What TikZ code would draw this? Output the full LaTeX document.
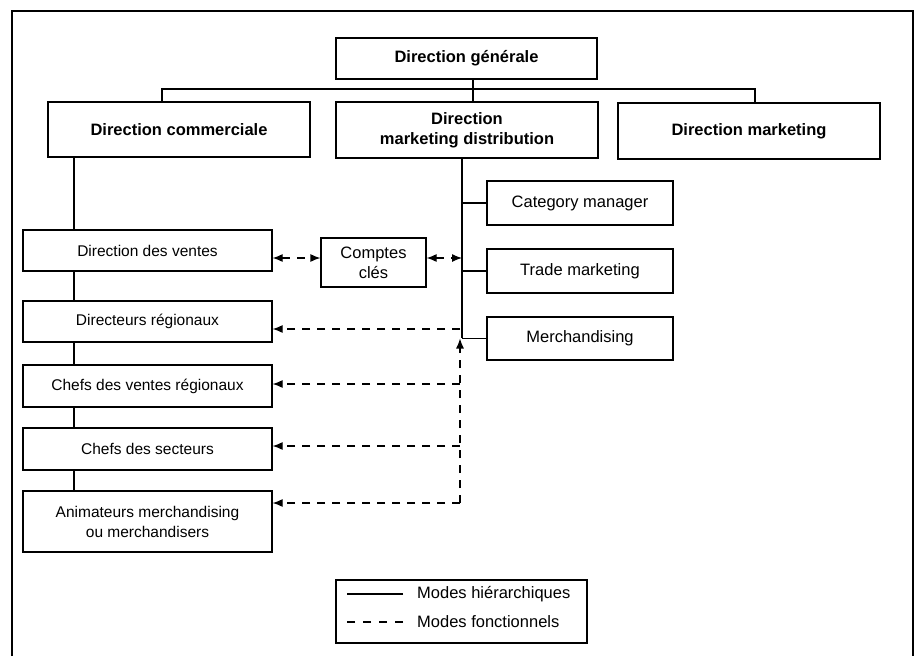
\documentclass[tikz,border=0pt]{standalone}
\usepackage{fontspec}
\setmainfont{Liberation Sans}
\usetikzlibrary{arrows.meta}

\begin{document}
\begin{tikzpicture}[x=1pt,y=-1pt,>={Latex[length=10pt,width=8pt]},
			every node/.style={font=\fontsize{15.5}{20}\selectfont},
			box/.style={draw,line width=1.2pt,align=center,inner sep=0pt},
			topbox/.style={box,font=\fontsize{16.5}{20}\selectfont\bfseries,minimum width=262pt,minimum height=56pt},
			lowbox/.style={box,minimum width=249pt,minimum height=41pt},
			sidebox/.style={box,font=\fontsize{16.5}{20}\selectfont,minimum width=186pt,minimum height=44pt},
			hier/.style={line width=1.2pt},
			funct/.style={line width=1.2pt,dash pattern=on 8pt off 7pt}]
			
			\useasboundingbox (0,0) rectangle (915,656);
			\draw[line width=2.2pt] (12,656) -- (12,11) -- (913,11) -- (913,656);
			
			\node[topbox,minimum width=261pt,minimum height=41pt] (dg) at (466.5,58.5) {Direction générale};
			\node[topbox,minimum height=55pt] (dc) at (179,129.5) {Direction commerciale};
			\node[topbox] (dmd) at (467,130) {Direction\\marketing distribution};
			\node[topbox] (dm) at (749,131) {Direction marketing};
			
			\node[sidebox] (cat) at (580,203) {Category manager};
			\node[sidebox] (trade) at (580,271) {Trade marketing};
			\node[sidebox,minimum height=43pt] (merch) at (580,338.5) {Merchandising};
			\node[sidebox,minimum width=105pt,minimum height=49pt] (cc) at (373.5,262.5) {Comptes\\clés};
			
			\node[lowbox] (dv) at (147.5,250.5) {Direction des ventes};
			\node[lowbox] (dr) at (147.5,321.5) {Directeurs régionaux};
			\node[lowbox,minimum height=42pt] (cvr) at (147.5,386) {Chefs des ventes régionaux};
			\node[lowbox,minimum height=42pt] (cs) at (147.5,449) {Chefs des secteurs};
			\node[lowbox,minimum height=61pt] (anim) at (147.5,521.5) {Animateurs merchandising\\ou merchandisers};
			
			\coordinate (bus) at (473,89);
			\coordinate (busL) at (162,89);
			\coordinate (busR) at (755,89);
			\coordinate (spine) at (74,0);
			\coordinate (trunk) at (462,338);
			\coordinate (kc) at (0,258);
			\coordinate (f1) at (460,329);
			\coordinate (f2) at (460,384);
			\coordinate (f3) at (460,446);
			\coordinate (f4) at (460,503);
			
			\draw[hier] (dg.south -| bus) -- (dmd.north -| bus);
			\draw[hier] (busL |- dc.north) -- (busL) -- (busR) -- (busR |- dm.north);
			\foreach \a/\b in {dc/dv,dv/dr,dr/cvr,cvr/cs,cs/anim}{
				\draw[hier] (\a.south -| spine) -- (\b.north -| spine);
			}
			\draw[hier] (dmd.south -| trunk) -- (trunk);
			\foreach \n in {cat,trade,merch}{
				\draw[hier] (trunk |- \n.west) -- (\n.west);
			}
			
			\draw[funct,<->] (dv.east |- kc) -- (cc.west |- kc);
			\draw[funct,<->] (cc.east |- kc) -- (trunk |- kc);
			\draw[funct,->] (f4) -- (f4 |- merch.west);
			\foreach \f/\n in {f1/dr,f2/cvr,f3/cs,f4/anim}{
				\draw[funct,->] (\f) -- (\f -| \n.east);
			}
			
			\node[box,minimum width=251pt,minimum height=63pt] (leg) at (461.5,611.5) {};
			\node[anchor=west,inner sep=0pt,font=\fontsize{16.5}{20}\selectfont] (lh) at (417,594) {Modes hiérarchiques};
			\node[anchor=west,inner sep=0pt,font=\fontsize{16.5}{20}\selectfont] (lf) at (417,622) {Modes fonctionnels};
			\draw[hier] (lh.west) ++(-14,0) -- ++(-56,0);
			\draw[funct,dash pattern=on 8pt off 8pt] (lf.west) ++(-14,0) -- ++(-56,0);
		\end{tikzpicture}
\end{document}
